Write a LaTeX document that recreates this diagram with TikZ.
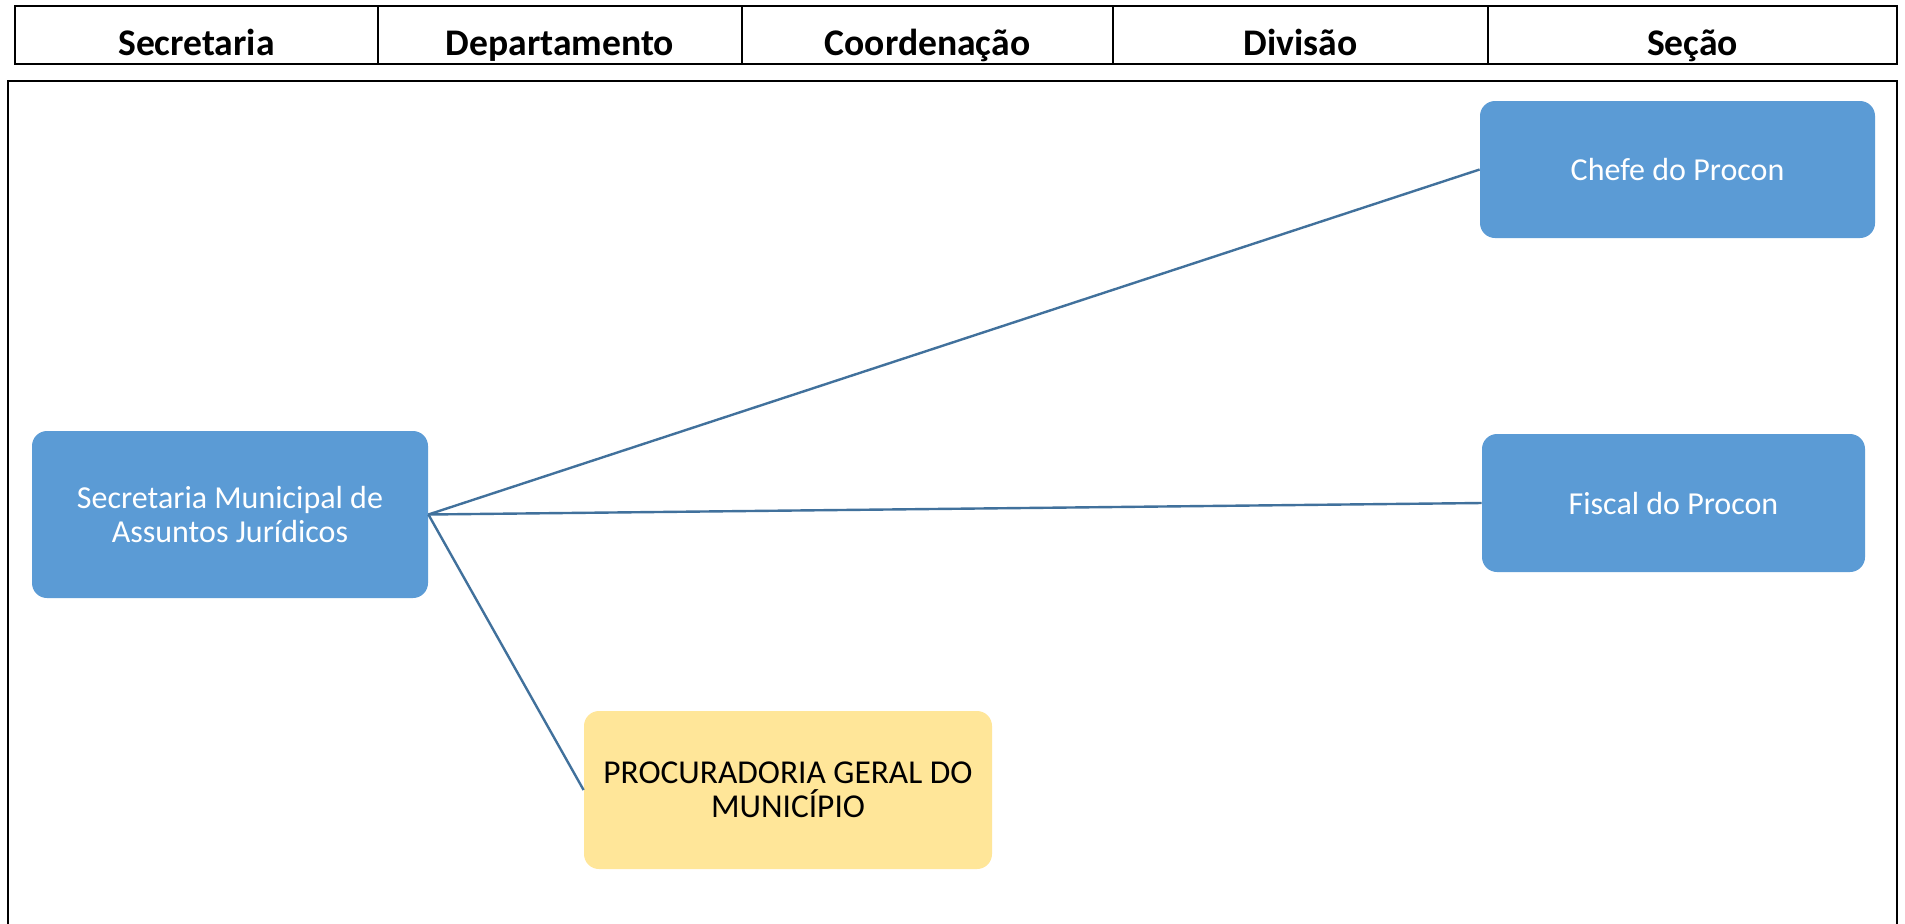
\documentclass[tikz,border=0pt]{standalone}
\usepackage{fontspec}
\setmainfont{Carlito}
\definecolor{boxblue}{HTML}{5B9BD5}
\definecolor{linkblue}{HTML}{41719C}
\definecolor{boxyellow}{HTML}{FFE699}
\begin{document}
\begin{tikzpicture}[x=0.5pt,y=-0.5pt,
  rule/.style={draw=black, line width=1pt},
  hdr/.style={anchor=base, inner sep=0pt, font=\fontsize{18.8}{22}\selectfont\bfseries},
  orgbox/.style={rectangle, rounded corners=7.5pt, inner sep=0pt, align=center,
                 font=\fontsize{16}{17}\selectfont},
  bluebox/.style={orgbox, fill=boxblue, text=white},
  yellowbox/.style={orgbox, fill=boxyellow, text=black, font=\fontsize{16.7}{17}\selectfont},
  link/.style={draw=linkblue, line width=1.2pt}
]
\useasboundingbox (0,0) rectangle (1905,923);
\fill[white] (0,0) rectangle (1905,923);

% header table
\draw[rule] (15,6) rectangle (1897,64);
\foreach \xx in {378,742,1113,1488} \draw[rule] (\xx,6) -- (\xx,64);
\node[hdr] (h1) at (196.5,55) {Secretaria};
\node[hdr] (h2) at (560,55) {Departamento};
\node[hdr] (h3) at (927.5,55) {Coordenação};
\node[hdr] (h4) at (1300.5,55) {Divisão};
\node[hdr] (h5) at (1692.5,55) {Seção};

% main frame (open at bottom)
\draw[rule] (8,930) -- (8,81) -- (1897,81) -- (1897,930);

% boxes
\node[bluebox, minimum width=198pt, minimum height=83.5pt] (sec) at (230,514.5)
  {Secretaria Municipal de\\Assuntos Jurídicos};
\node[bluebox, minimum width=197.5pt, minimum height=68.5pt] (chefe) at (1677.5,169.5)
  {Chefe do Procon};
\node[bluebox, minimum width=191.5pt, minimum height=69pt] (fiscal) at (1673.5,503)
  {Fiscal do Procon};
\node[yellowbox, minimum width=204pt, minimum height=79pt] (proc) at (788,790)
  {PROCURADORIA GERAL DO\\MUNICÍPIO};

% connectors
\draw[link] (sec.east) -- (chefe.west);
\draw[link] (sec.east) -- (fiscal.west);
\draw[link] (sec.east) -- (proc.west);
\end{tikzpicture}
\end{document}
